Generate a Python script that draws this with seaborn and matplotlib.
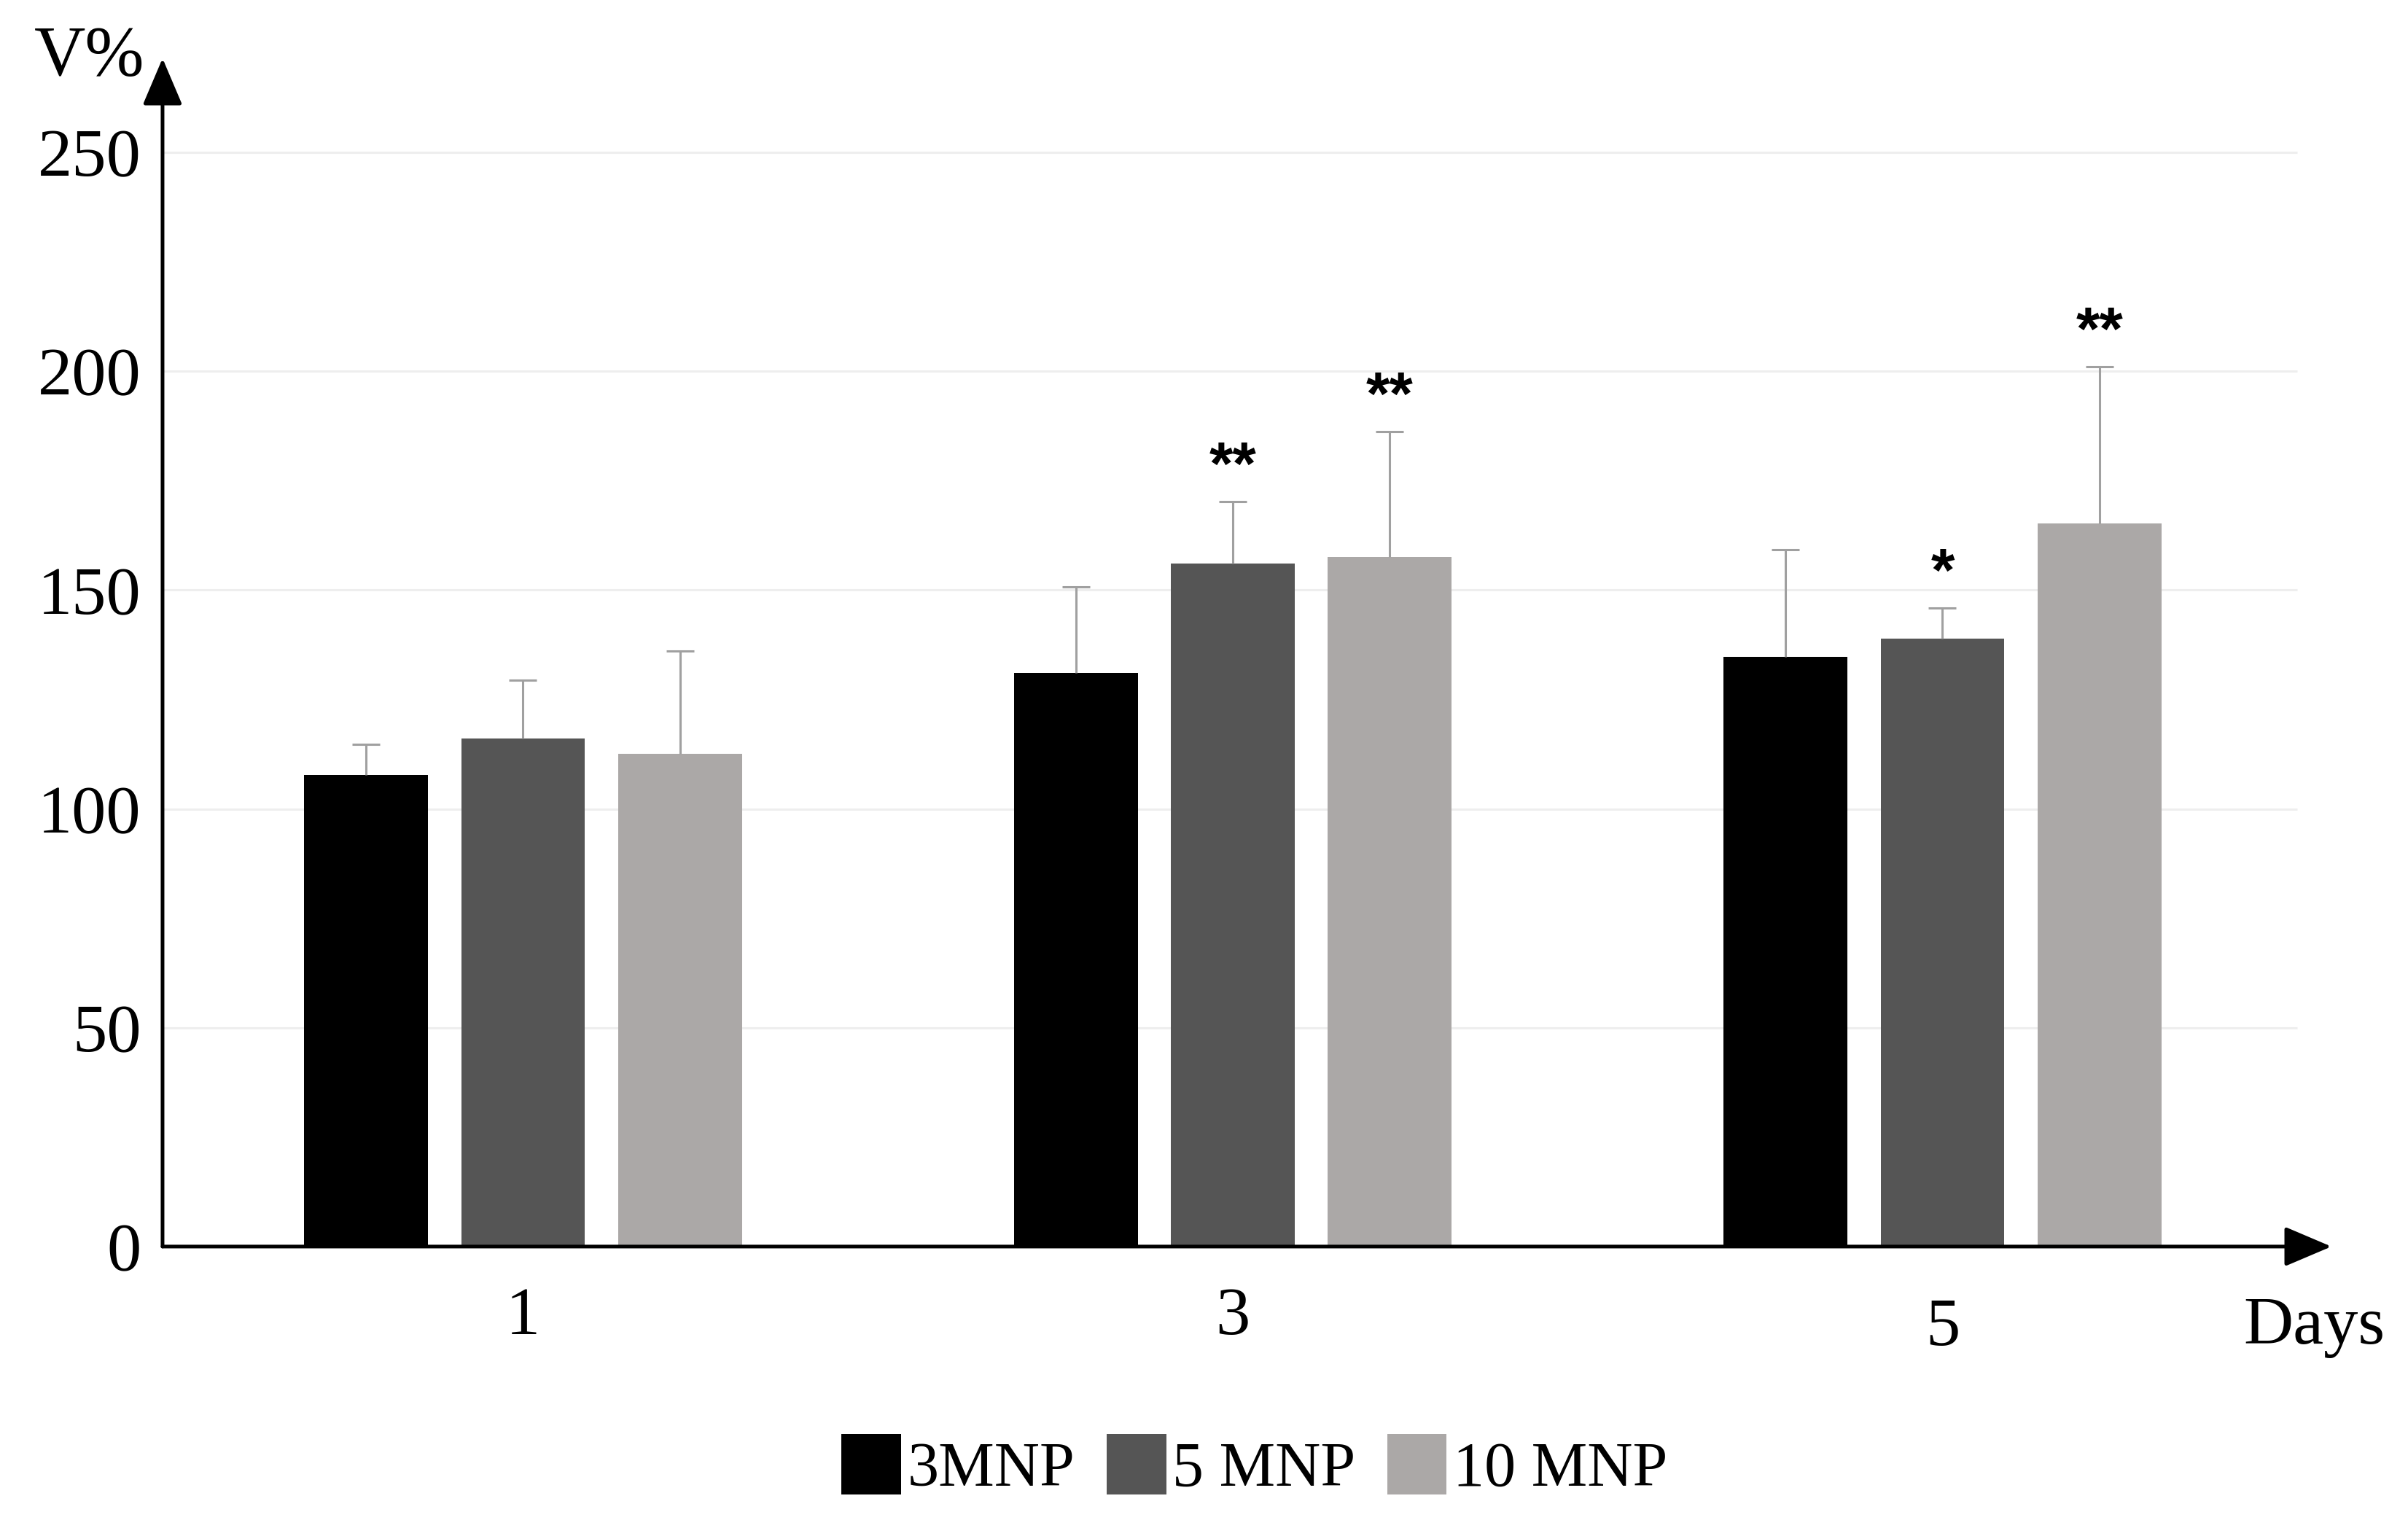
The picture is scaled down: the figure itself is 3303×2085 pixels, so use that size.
import pandas as pd
import matplotlib.pyplot as plt
import seaborn as sns
from matplotlib.transforms import ScaledTranslation

# dati
days = ['1', '3', '5']
groups = ['3MNP', '5 MNP', '10 MNP']
colors = ['#000000', '#555555', '#ABA8A7']

mnp3 = [107.7, 131.1, 134.8]
mnp5 = [116.1, 156.1, 138.9]
mnp10 = [112.6, 157.6, 165.3]

err3 = [7.0, 19.7, 24.4]
err5 = [13.3, 14.1, 7.0]
err10 = [23.4, 28.6, 35.8]

stars3 = ['', '', '']
stars5 = ['', '**', '*']
stars10 = ['', '**', '**']

yticks = [0, 50, 100, 150, 200, 250]

rows = []
for g, vals, errs, st in zip(groups, [mnp3, mnp5, mnp10], [err3, err5, err10],
                             [stars3, stars5, stars10]):
    for d, v, e, s in zip(days, vals, errs, st):
        rows.append({'day': d, 'group': g, 'value': v, 'err': e, 'star': s})
df = pd.DataFrame(rows)

sns.set_style("white")
plt.rcParams['font.family'] = ['Liberation Serif', 'DejaVu Serif']
plt.rcParams['text.color'] = 'black'
plt.rcParams['xtick.color'] = 'black'
plt.rcParams['ytick.color'] = 'black'

fig = plt.figure(figsize=(33.03, 20.85), dpi=100)
ax = fig.add_axes([0.0675, 0.1799, 0.9007, 0.7817])

sns.barplot(data=df, x='day', y='value', hue='group', order=days, hue_order=groups,
            palette=colors, saturation=1, width=0.663, gap=0.21, errorbar=None,
            linewidth=0, ax=ax, zorder=2)

xmin, xmax = -0.508, 2.548
ax.set_xlim(xmin, xmax)
ax.set_ylim(0, 271.5)

# griglia leggera
ax.hlines(yticks[1:], xmin, 2.5, color='#EEEEEE', lw=2.2, zorder=0)

# barre di errore (solo verso l'alto) e asterischi
for cont, g in zip(ax.containers, groups):
    sub = df[df['group'] == g].set_index('day').loc[days]
    xs = [b.get_x() + b.get_width() / 2 for b in cont]
    hs = [b.get_height() for b in cont]
    eb = ax.errorbar(xs, hs, yerr=[[0] * len(xs), list(sub['err'])], fmt='none',
                     ecolor='#A0A0A0', elinewidth=2.2, capsize=14, capthick=2.2, zorder=3)
    eb[1][0].set_visible(False)
    for x, h, e, s in zip(xs, hs, sub['err'], sub['star']):
        if s:
            ax.text(x, h + e + 7.5, s, ha='center', va='center', fontsize=60,
                    fontweight='bold', family='Liberation Sans', color='black')

# assi con frecce
for sp in ax.spines.values():
    sp.set_visible(False)
arrow = dict(arrowstyle='-|>,head_length=0.4,head_width=0.17', color='black', lw=3.6,
             mutation_scale=100, shrinkA=0, shrinkB=0)
ax.annotate('', xy=(1, 0), xytext=(0, 0), xycoords='axes fraction',
            arrowprops=arrow, annotation_clip=False)
ax.annotate('', xy=(0, 1), xytext=(0, 0), xycoords='axes fraction',
            arrowprops=arrow, annotation_clip=False)

ax.set_yticks(yticks)
ax.set_yticklabels([str(t) for t in yticks])
ax.tick_params(axis='y', length=0, pad=21, labelsize=68, labelcolor='black')
ax.tick_params(axis='x', length=0, pad=40, labelsize=68, labelcolor='black')
ax.set_xlabel('')
ax.set_ylabel('')

lbl = ax.get_xticklabels()[2]
lbl.set_transform(lbl.get_transform() + ScaledTranslation(0, -0.15, fig.dpi_scale_trans))

ax.text(-0.0336, 0.986, 'V%', transform=ax.transAxes, ha='center', va='baseline', fontsize=70)
ax.text(0.992, -0.0816, 'Days', transform=ax.transAxes, ha='center', va='baseline', fontsize=68)

# legenda in basso
handles, labels = ax.get_legend_handles_labels()
ax.legend_.remove()
fig.legend(handles, labels, loc='center', bbox_to_anchor=(0.521, 0.035), ncol=3,
           frameon=False, fontsize=62, handlelength=0.95, handleheight=1.1,
           handletextpad=0.1, columnspacing=0.5, borderaxespad=0)

fig.savefig('out.png', dpi=100)
plt.close()
